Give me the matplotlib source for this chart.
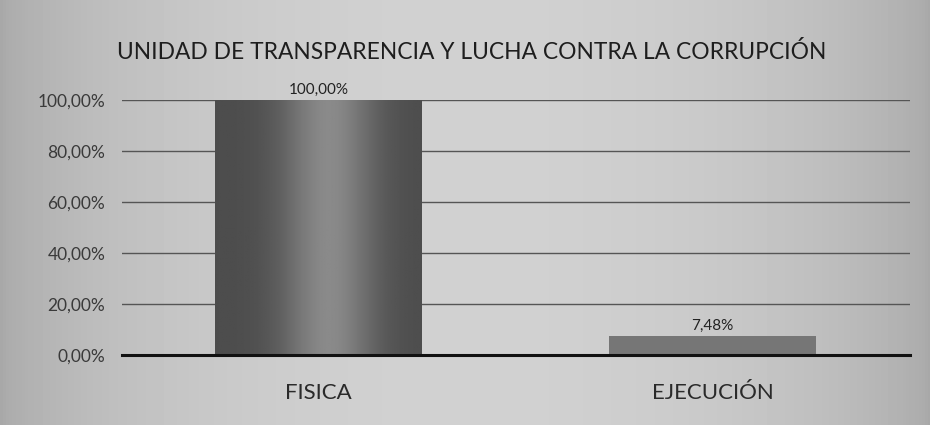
import numpy as np
import matplotlib.pyplot as plt

categorias = ['FISICA', 'EJECUCIÓN']
valores = [1.0, 0.0748]
etiquetas = ['100,00%', '7,48%']
ticks = [0, 0.2, 0.4, 0.6, 0.8, 1.0]
tick_labels = ['0,00%', '20,00%', '40,00%', '60,00%', '80,00%', '100,00%']

plt.rcParams['font.family'] = ['Lato', 'DejaVu Sans']

fig = plt.figure(figsize=(9.3, 4.25), dpi=100)
fig.patch.set_facecolor('#bdbdbd')

# scanned-paper look: lighter in the middle, darker at the edges
bg = fig.add_axes([0, 0, 1, 1], zorder=-10)
xx = np.linspace(-1, 1, 300)
shade = 0.66 + 0.16 * (1 - xx**2) ** 0.7
bg.imshow(shade[None, :], cmap='gray', vmin=0, vmax=1, aspect='auto',
          extent=[0, 1, 0, 1])
bg.axis('off')

ax = fig.add_axes([0.131, 0.165, 0.847, 0.600])
ax.set_facecolor('none')
x = np.arange(len(categorias))
w = 0.525

bars = ax.bar(x, valores, width=w, color=['#5a5a5a', '#767676'], zorder=2)

# horizontal gradient on the first bar
g = np.linspace(-1, 1, 200)
grad = 0.30 + 0.24 * np.exp(-((g - 0.1) / 0.45) ** 2)
b0 = bars[0]
img = ax.imshow(grad[None, :], cmap='gray', vmin=0, vmax=1, aspect='auto',
                extent=[b0.get_x(), b0.get_x() + w, 0, valores[0]], zorder=3)
img.set_clip_path(b0)
ax.set_aspect('auto')

for xi, v, t in zip(x, valores, etiquetas):
    ax.text(xi, v + 0.012, t, ha='center', va='bottom', fontsize=11,
            color='#222222', clip_on=False)

ax.set_xlim(-0.5, 1.5)
ax.set_ylim(0, 1.0)
ax.set_yticks(ticks)
ax.set_yticklabels(tick_labels, fontsize=12.5, color='#3a3a3a')
ax.set_xticks(x)
ax.set_xticklabels(categorias, fontsize=16, color='#2a2a2a')
ax.tick_params(length=0, pad=12)
ax.tick_params(axis='x', pad=20)
ax.yaxis.grid(True, color='#555555', linewidth=1.0, zorder=0)
ax.set_axisbelow(True)
for s in ['top', 'right', 'left']:
    ax.spines[s].set_visible(False)
ax.spines['bottom'].set_color('#111111')
ax.spines['bottom'].set_linewidth(2.2)
ax.spines['bottom'].set_zorder(4)

fig.text(0.507, 0.877, 'UNIDAD DE TRANSPARENCIA Y LUCHA CONTRA LA CORRUPCIÓN',
         ha='center', va='center', fontsize=16.4, color='#1e1e1e')

fig.savefig('out.png', dpi=100, facecolor=fig.get_facecolor())
